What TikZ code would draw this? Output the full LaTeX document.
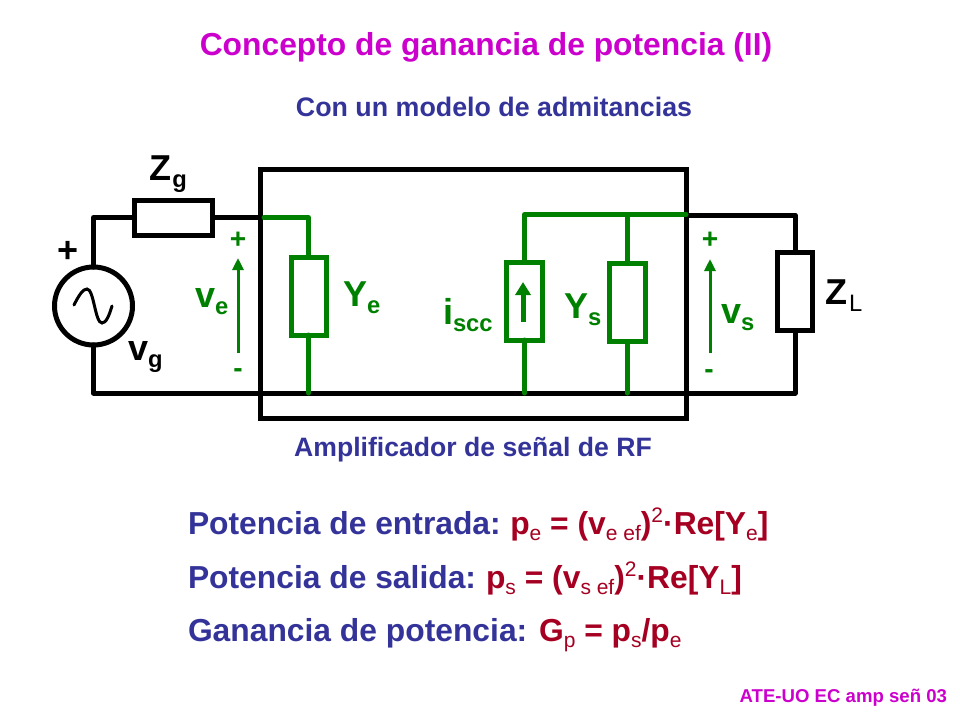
\documentclass[tikz,border=0pt]{standalone}
\usepackage{fontspec}
\setmainfont{Liberation Sans}
\usetikzlibrary{arrows.meta}

\definecolor{titlemag}{RGB}{204,0,204}
\definecolor{textblue}{RGB}{51,51,153}
\definecolor{textred}{RGB}{165,0,33}
\definecolor{wiregreen}{RGB}{0,128,0}

\newcommand{\lowtxt}[1]{\raisebox{-.2em}{\scalebox{.66}{#1}}}
\newcommand{\lowreg}[1]{\raisebox{-.2em}{\scalebox{.66}{\mdseries #1}}}
\newcommand{\uptxt}[1]{\raisebox{.36em}{\scalebox{.66}{\mdseries #1}}}
\newcommand{\fsz}[1]{\fontsize{#1}{#1}\selectfont\bfseries}

\tikzset{
  wire/.style={line width=5pt,line cap=round,line join=round},
  gwire/.style={wire,draw=wiregreen},
  imped/.style={draw,rectangle,line width=5pt,fill=white,inner sep=0pt,outer sep=0pt},
  gimped/.style={imped,draw=wiregreen},
  txt/.style={inner sep=0pt,outer sep=0pt,anchor=base},
  ltxt/.style={inner sep=0pt,outer sep=0pt,anchor=base west},
  vtip/.style={-{Triangle[length=12pt,width=11pt]},line width=3pt,wiregreen},
}

\begin{document}
\begin{tikzpicture}[x=1pt,y=-1pt]
\useasboundingbox (0,0) rectangle (960,720);

% amplifier box
\node[imped,fill=none,minimum width=426,minimum height=249] (amp) at (473,293.5) {};

% elements
\node[draw,circle,line width=5pt,fill=white,inner sep=0pt,outer sep=0pt,minimum size=78] (src) at (93.5,306) {};
\node[imped,minimum width=78,minimum height=35] (Zg) at (173.5,217.5) {};
\node[imped,minimum width=35,minimum height=78] (ZL) at (795,291.5) {};
\node[gimped,minimum width=35,minimum height=78] (Ye) at (308.5,296) {};
\node[gimped,minimum width=36,minimum height=78] (Isc) at (524.5,301) {};
\node[gimped,minimum width=36,minimum height=78] (Ys) at (627,302.5) {};

% corner points
\coordinate (a1) at (93.5,217.5);
\coordinate (a2) at (93.5,393);
\coordinate (a3) at (260,217.5);
\coordinate (a6) at (264,217.5);
\coordinate (a4) at (308.5,217.5);
\coordinate (a5) at (308.5,393);
\coordinate (b1) at (524.5,214.5);
\coordinate (b2) at (627,214.5);
\coordinate (b3) at (686,214.5);
\coordinate (b4) at (524.5,393);
\coordinate (b5) at (627,393);
\coordinate (c1) at (795,215);
\coordinate (c2) at (686,215);
\coordinate (c3) at (795,393);

% black wires
\draw[wire] (src) -- (a1) -- (Zg);
\draw[wire] (Zg) -- (a3);
\draw[wire] (src) -- (a2) -- (c3) -- (ZL);
\draw[wire] (c2) -- (c1) -- (ZL);

% green wires
\draw[gwire] (a6) -- (a4) -- (Ye);
\draw[gwire] (Ye) -- (a5);
\draw[gwire] (b3) -- (b1) -- (Isc);
\draw[gwire] (b2) -- (Ys);
\draw[gwire] (Isc) -- (b4);
\draw[gwire] (Ys) -- (b5);

% sine
\draw[line width=3pt,line cap=round] (74,305) .. controls (79,295) and (83,289) .. (87,289)
  .. controls (94,289) and (95,323) .. (102,323) .. controls (106,323) and (109,316) .. (112,306);

% arrows
\coordinate (ve1) at (238,353);
\coordinate (ve2) at (238,258);
\coordinate (vs1) at (710,353);
\coordinate (vs2) at (710,259);
\coordinate (is1) at (523,322);
\coordinate (is2) at (523,282);
\draw[vtip] (ve1) -- (ve2);
\draw[vtip] (vs1) -- (vs2);
\draw[-{Triangle[length=13pt,width=15pt]},line width=5pt,wiregreen] (is1) -- (is2);

% titles
\node[txt,titlemag] (title) at (486,55) {\fsz{31.8}Concepto de ganancia de potencia (II)};
\node[txt,textblue] (sub) at (494,116) {\fsz{26.8}Con un modelo de admitancias};
\node[txt,textblue] (ampl) at (473,456) {\fsz{26.6}Amplificador de señal de RF};

% circuit labels
\node[txt] (plus) at (68,262) {\fsz{36}+};
\node[ltxt] (lZg) at (149,180) {\fsz{36}Z\kern1.5pt\lowtxt{g}};
\node[ltxt] (lvg) at (128,360) {\fsz{36}v\lowtxt{g}};
\node[ltxt] (lZL) at (825,304) {\fsz{36}Z\kern2pt\lowtxt{\mdseries L}};
\node[txt,wiregreen] (pe) at (238,248) {\fsz{28}+};
\node[txt,wiregreen] (me) at (238,377) {\fsz{28}-};
\node[txt,wiregreen] (ps) at (710,248) {\fsz{28}+};
\node[txt,wiregreen] (ms) at (709,378) {\fsz{28}-};
\node[ltxt,wiregreen] (lve) at (195,307) {\fsz{36}v\lowtxt{e}};
\node[ltxt,wiregreen] (lYe) at (343,306) {\fsz{36}Y\lowtxt{e}};
\node[ltxt,wiregreen] (lis) at (443,324) {\fsz{36}i\lowtxt{scc}};
\node[ltxt,wiregreen] (lYs) at (564,318) {\fsz{36}Y\lowtxt{s}};
\node[ltxt,wiregreen] (lvs) at (721,323) {\fsz{36}v\lowtxt{s}};

% formulas
\node[ltxt,textblue] (f1) at (188,534) {\fsz{31.8}Potencia de entrada:\kern9.5pt\textcolor{textred}{p\lowreg{e} = (v\lowreg{e ef})\uptxt{2}·Re[Y\lowreg{e}]}};
\node[ltxt,textblue] (f2) at (188,588) {\fsz{31.8}Potencia de salida:\kern10pt\textcolor{textred}{p\lowreg{s} = (v\lowreg{s ef})\uptxt{2}·Re[Y\lowreg{L}]}};
\node[ltxt,textblue] (f3) at (188,641) {\fsz{31.8}Ganancia de potencia: \textcolor{textred}{G\lowreg{p} = p\lowreg{s}/p\lowreg{e}}};

\node[inner sep=0pt,outer sep=0pt,anchor=base east,titlemag] (foot) at (947,702) {\fsz{18.6}ATE-UO EC amp señ 03};
\end{tikzpicture}
\end{document}
